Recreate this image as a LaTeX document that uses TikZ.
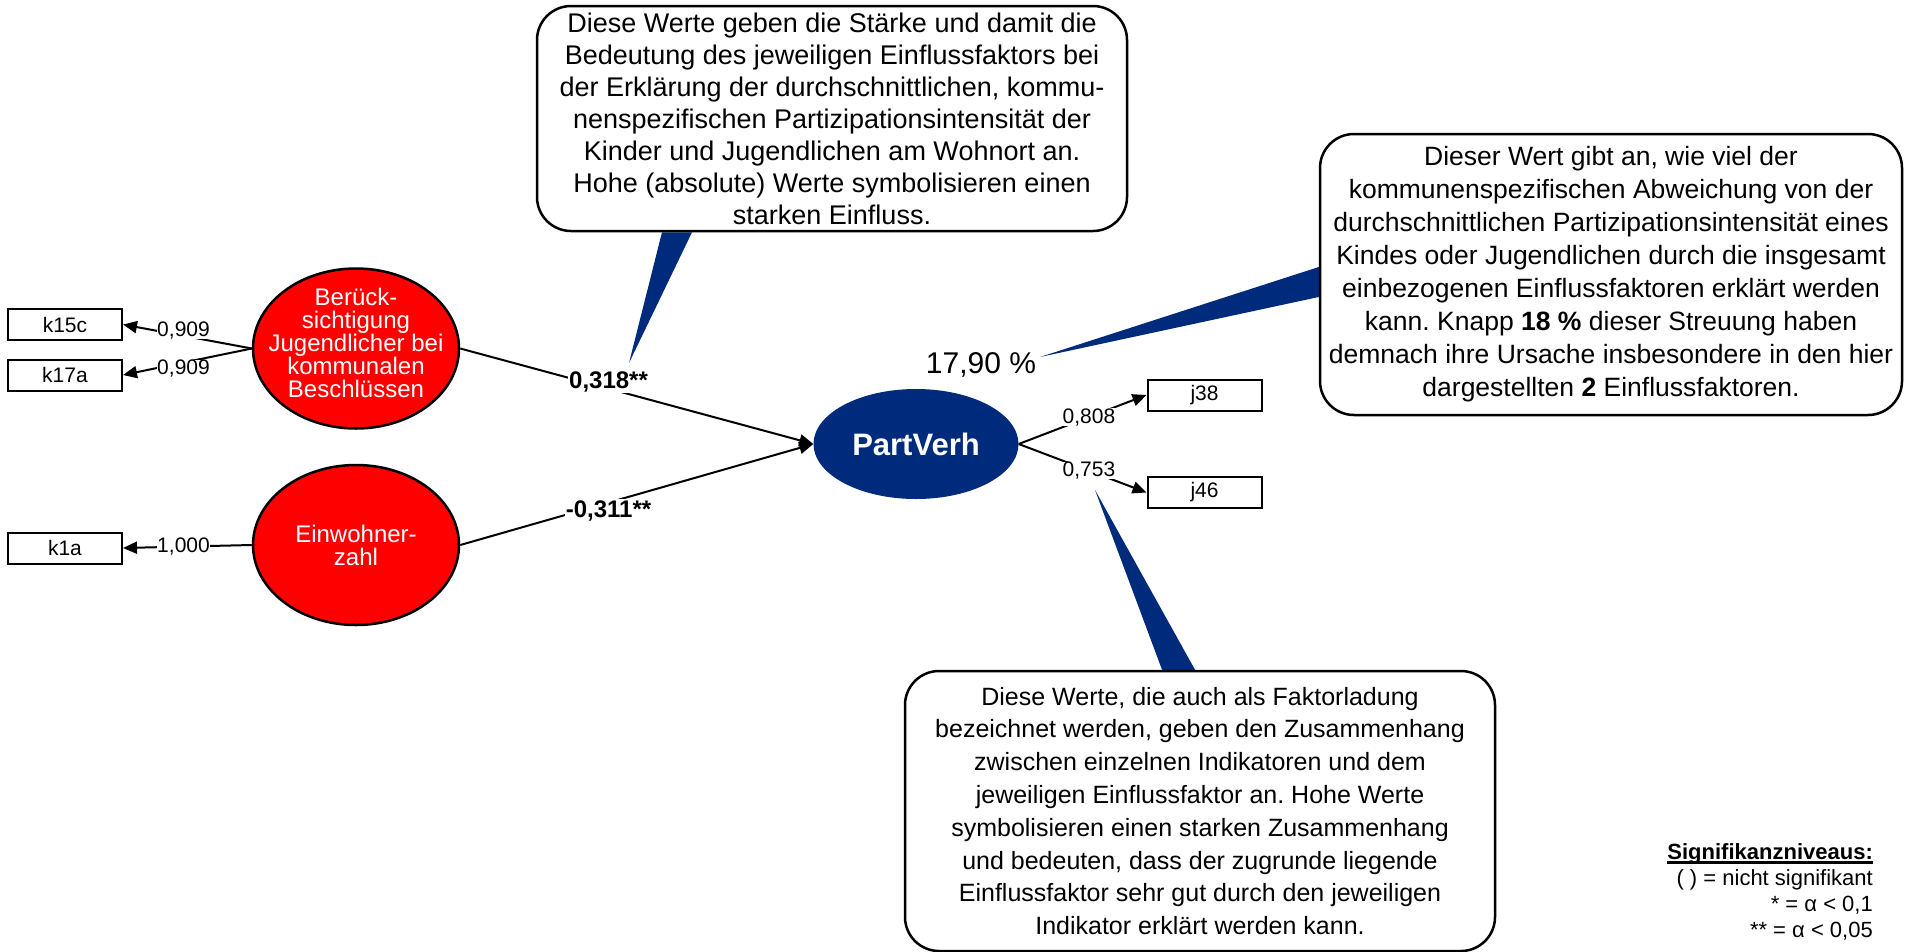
\documentclass[tikz,border=0pt]{standalone}
\usepackage{fontspec}
\setmainfont{Liberation Sans}
\usetikzlibrary{arrows.meta,calc,shapes.geometric,backgrounds}
\definecolor{navy}{HTML}{002A7C}
\definecolor{latentred}{HTML}{FF0000}
\newcommand{\sigul}[1]{\setbox0\hbox{#1}\rlap{\vrule width\wd0 height -2pt depth 4.5pt}\box0}
\frenchspacing

\begin{document}
\begin{tikzpicture}[x=1pt,y=-1pt,
  ind/.style={draw,line width=2pt,minimum width=114pt,minimum height=31pt,inner sep=0pt,
    font=\fontsize{21}{24}\selectfont},
  latent/.style={ellipse,draw,line width=2.5pt,fill=latentred,minimum width=206pt,
    minimum height=160pt,inner sep=0pt},
  ltxt/.style={text=white,align=center,font=\fontsize{24}{23}\selectfont},
  target/.style={ellipse,fill=navy,text=white,minimum width=205pt,minimum height=110pt,
    inner sep=0pt,font=\bfseries\fontsize{31}{34}\selectfont},
  loading/.style={fill=white,inner sep=0pt,font=\fontsize{21}{24}\selectfont},
  coef/.style={fill=white,inner sep=1pt,font=\bfseries\fontsize{24}{27}\selectfont},
  link/.style={line width=2pt,-{Triangle[length=14pt,width=12pt]}},
  callout/.style={draw,line width=2.5pt,fill=white,rounded corners=34pt,align=center,inner sep=0pt},
  pointer/.style={fill=navy},
  legend/.style={align=right,inner sep=0pt,font=\fontsize{22}{26}\selectfont}
]
\useasboundingbox (0,0) rectangle (1905,951);

% indicators
\node[ind] (k15c) at (65,324.5) {k15c};
\node[ind] (k17a) at (65,375) {k17a};
\node[ind] (k1a) at (65,548) {k1a};
\node[ind] (j38) at (1204.5,395) {j38};
\node[ind] (j46) at (1204.5,492.5) {j46};

% latent factors
\node[latent,label={[ltxt,yshift=6pt]center:{Berück-\\sichtigung\\Jugendlicher bei\\kommunalen\\Beschlüssen}}]
  (ber) at (356,348.5) {};
\node[latent,label={[ltxt]center:{Einwohner-\\zahl}}] (einw) at (356,545) {};
\node[target] (pv) at (916,444) {PartVerh};
\node[font=\fontsize{30}{34}\selectfont] (rsq) at (981,365) {17,90 \%};

% loadings and paths
\draw[link] (ber.west) -- node[loading,pos=.53,yshift=5pt] {0,909} (k15c.east);
\draw[link] (ber.west) -- node[loading,pos=.53,yshift=-6pt] {0,909} (k17a.east);
\draw[link] (einw.west) -- node[loading,pos=.53] {1,000} (k1a.east);
\draw[link] (ber.east) -- node[coef,pos=.42,yshift=7pt] {0,318**} (pv.west);
\draw[link] (einw.east) -- node[coef,pos=.42,yshift=-8pt] {-0,311**} (pv.west);
\draw[link] (pv.east) -- node[loading,pos=.55] {0,808} (j38.west);
\draw[link] (pv.east) -- node[loading,pos=.55] {0,753} (j46.west);

% explanations
\node[callout,minimum width=590pt,minimum height=225pt,font=\fontsize{27}{32}\selectfont]
  (notepath) at (832,118.5)
  {Diese Werte geben die Stärke und damit die\\
   Bedeutung des jeweiligen Einflussfaktors bei\\
   der Erklärung der durchschnittlichen, kommu-\\
   nenspezifischen Partizipationsintensität der\\
   Kinder und Jugendlichen am Wohnort an.\\
   Hohe (absolute) Werte symbolisieren einen\\
   starken Einfluss.};
\node[callout,minimum width=582pt,minimum height=281pt,font=\fontsize{26.5}{33}\selectfont]
  (noterq) at (1611,274.5)
  {Dieser Wert gibt an, wie viel der\\
   kommunenspezifischen Abweichung von der\\
   durchschnittlichen Partizipationsintensität eines\\
   Kindes oder Jugendlichen durch die insgesamt\\
   einbezogenen Einflussfaktoren erklärt werden\\
   kann. Knapp \textbf{18 \%} dieser Streuung haben\\
   demnach ihre Ursache insbesondere in den hier\\
   dargestellten \textbf{2} Einflussfaktoren.};
\node[callout,minimum width=590pt,minimum height=280pt,font=\fontsize{25}{32.8}\selectfont]
  (noteload) at (1200,811)
  {Diese Werte, die auch als Faktorladung\\
   bezeichnet werden, geben den Zusammenhang\\
   zwischen einzelnen Indikatoren und dem\\
   jeweiligen Einflussfaktor an. Hohe Werte\\
   symbolisieren einen starken Zusammenhang\\
   und bedeuten, dass der zugrunde liegende\\
   Einflussfaktor sehr gut durch den jeweiligen\\
   Indikator erklärt werden kann.};

\coordinate (tippath) at (629,363);
\coordinate (tiprq) at (1040,357);
\coordinate (tipload) at (1095,490);
\begin{scope}[on background layer]
  \fill[pointer] ($(notepath.south)+(-170,0)$) -- ($(notepath.south)+(-140,0)$) -- (tippath) -- cycle;
  \fill[pointer] ($(noterq.west)+(0,-7.5)$) -- ($(noterq.west)+(0,22.5)$) -- (tiprq) -- cycle;
  \fill[pointer] ($(noteload.north)+(-38,0)$) -- ($(noteload.north)+(-5,0)$) -- (tipload) -- cycle;
\end{scope}

% significance levels
\node[legend,anchor=east] (sig) at (1873,891.5)
  {\sigul{\textbf{Signifikanzniveaus:}}\\
   ( ) = nicht signifikant\\
   * = α < 0,1\\
   ** = α < 0,05};
\end{tikzpicture}
\end{document}
